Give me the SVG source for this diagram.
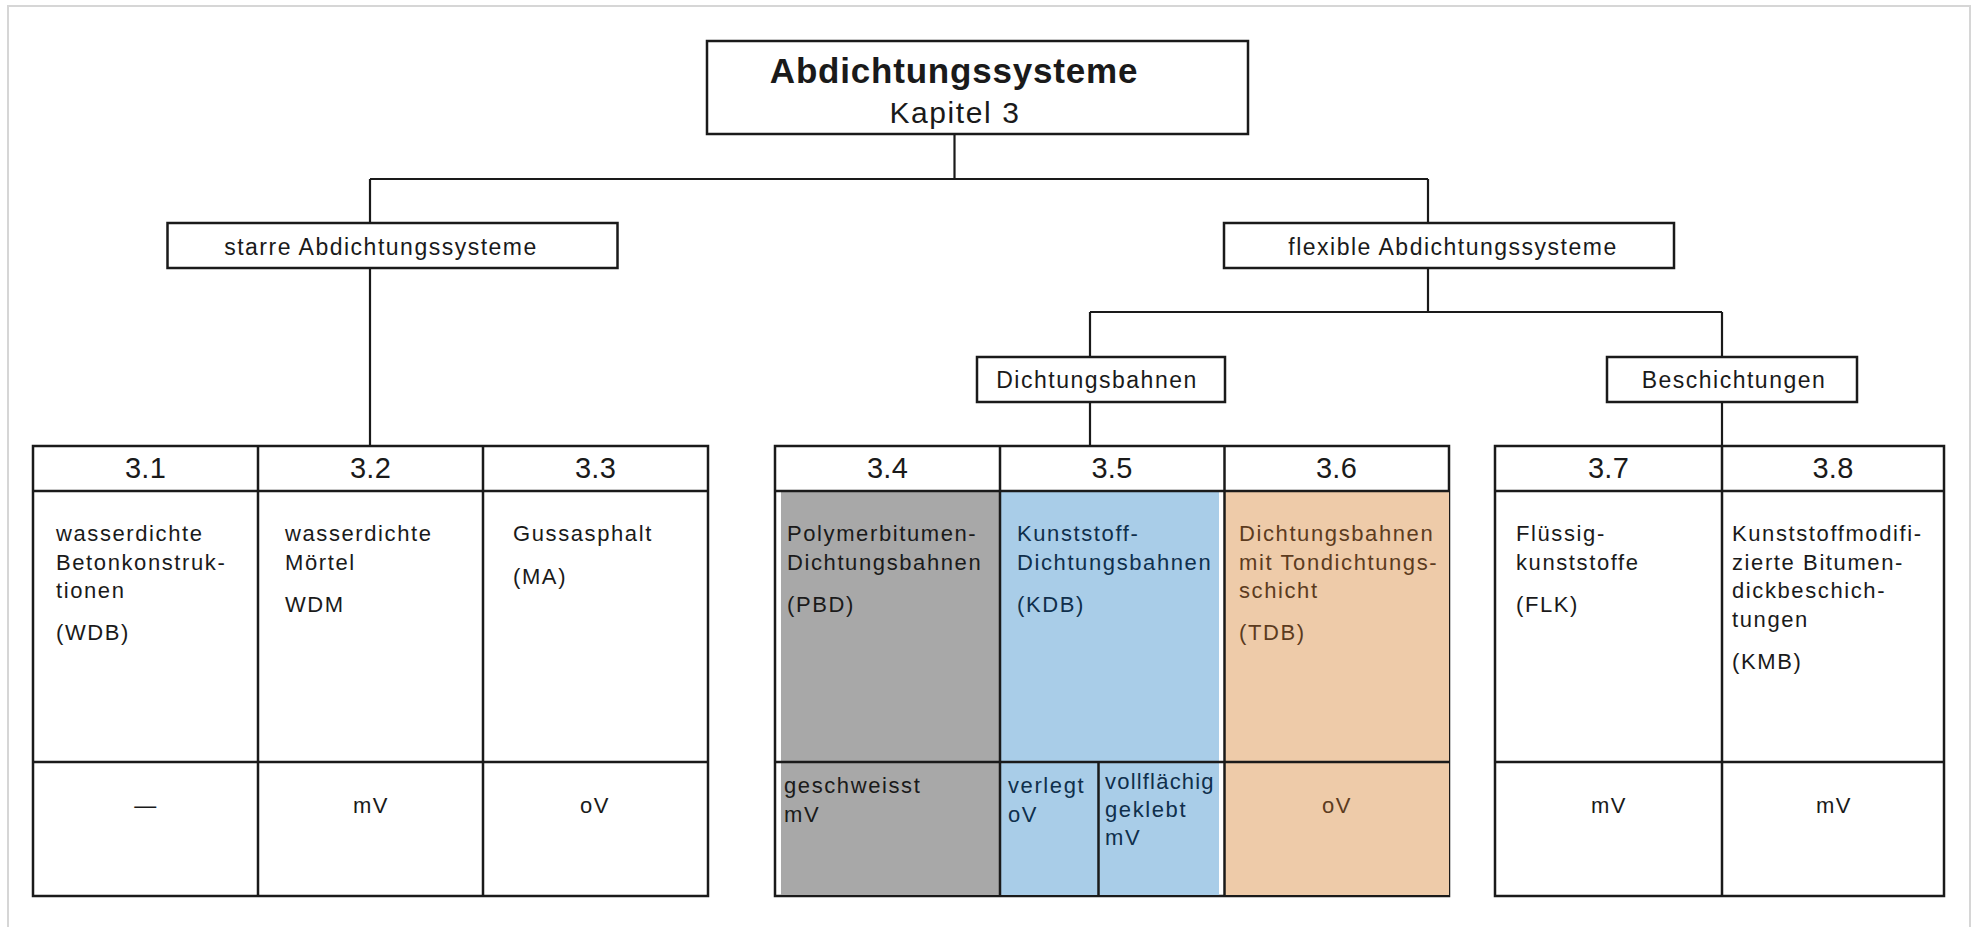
<svg xmlns="http://www.w3.org/2000/svg" width="1980" height="927" viewBox="0 0 1980 927">
<style>
.frame{fill:none;stroke:#d6d6d6;stroke-width:2}
.box{fill:#fff;stroke:#1a1a1a;stroke-width:2.5}
.ln{fill:none;stroke:#1a1a1a;stroke-width:2.2}
.tl{fill:none;stroke:#1a1a1a;stroke-width:2.5}
.t{font-family:"Liberation Sans",Arial,Helvetica,sans-serif;fill:#1a1a1a}
.ttl{font-size:35px;font-weight:bold;letter-spacing:0.8px;text-anchor:middle}
.sub{font-size:30px;letter-spacing:1.6px;text-anchor:middle}
.lbl{font-size:23px;letter-spacing:1.5px;text-anchor:middle}
.hd{font-size:29px;letter-spacing:0.3px;text-anchor:middle}
.bd{font-size:22px;letter-spacing:1.6px}
.mid{text-anchor:middle}
.blue{fill:#0f2f4c}
.brown{fill:#5c3b1e}
</style>
<rect class="frame" x="8" y="6" width="1962" height="940"/>

<g id="connectors">
<line class="ln" x1="954.5" y1="134" x2="954.5" y2="179"/>
<line class="ln" x1="370" y1="179" x2="1428" y2="179"/>
<line class="ln" x1="370" y1="179" x2="370" y2="223"/>
<line class="ln" x1="1428" y1="179" x2="1428" y2="223"/>
<line class="ln" x1="370" y1="268" x2="370" y2="446"/>
<line class="ln" x1="1428" y1="268" x2="1428" y2="312"/>
<line class="ln" x1="1090" y1="312" x2="1722" y2="312"/>
<line class="ln" x1="1090" y1="312" x2="1090" y2="357"/>
<line class="ln" x1="1722" y1="312" x2="1722" y2="357"/>
<line class="ln" x1="1090" y1="402" x2="1090" y2="446"/>
<line class="ln" x1="1722" y1="402" x2="1722" y2="446"/>
</g>

<g id="root">
<rect class="box" x="707" y="41" width="541" height="93"/>
<text class="t ttl" x="954" y="83">Abdichtungssysteme</text>
<text class="t sub" x="955" y="123">Kapitel 3</text>
</g>

<g id="starre">
<rect class="box" x="167.5" y="223" width="450" height="45"/>
<text class="t lbl" x="381" y="255">starre Abdichtungssysteme</text>
</g>

<g id="flexible">
<rect class="box" x="1224" y="223" width="450" height="45"/>
<text class="t lbl" x="1453" y="255">flexible Abdichtungssysteme</text>
</g>

<g id="dichtungsbahnen">
<rect class="box" x="977" y="357" width="248" height="45"/>
<text class="t lbl" x="1097" y="388">Dichtungsbahnen</text>
</g>

<g id="beschichtungen">
<rect class="box" x="1607" y="357" width="250" height="45"/>
<text class="t lbl" x="1734" y="388">Beschichtungen</text>
</g>

<g id="table-starr">
<rect class="box" x="33" y="446" width="675" height="450"/>
<line class="tl" x1="33" y1="491" x2="708" y2="491"/>
<line class="tl" x1="33" y1="762" x2="708" y2="762"/>
<line class="tl" x1="258" y1="446" x2="258" y2="896"/>
<line class="tl" x1="483" y1="446" x2="483" y2="896"/>
<text class="t hd" x="145.5" y="478">3.1</text>
<text class="t hd" x="370.5" y="478">3.2</text>
<text class="t hd" x="595.5" y="478">3.3</text>
<text class="t bd" x="56" y="541">wasserdichte</text>
<text class="t bd" x="56" y="569.5">Betonkonstruk-</text>
<text class="t bd" x="56" y="598">tionen</text>
<text class="t bd" x="56" y="640">(WDB)</text>
<text class="t bd" x="285" y="541">wasserdichte</text>
<text class="t bd" x="285" y="569.5">Mörtel</text>
<text class="t bd" x="285" y="612">WDM</text>
<text class="t bd" x="513" y="541">Gussasphalt</text>
<text class="t bd" x="513" y="584">(MA)</text>
<text class="t bd mid" x="146" y="813">—</text>
<text class="t bd mid" x="371" y="813">mV</text>
<text class="t bd mid" x="595" y="813">oV</text>
</g>

<g id="table-bahnen">
<rect class="box" x="775" y="446" width="674" height="450"/>
<rect x="781" y="492" width="219" height="403" fill="#a8a8a8"/>
<rect x="1000" y="492" width="219" height="403" fill="#a9cde8"/>
<rect x="1224" y="492" width="225" height="403" fill="#eecba9"/>
<line class="tl" x1="775" y1="491" x2="1449" y2="491"/>
<line class="tl" x1="775" y1="762" x2="1449" y2="762"/>
<line class="tl" x1="1000" y1="446" x2="1000" y2="896"/>
<line class="tl" x1="1224.5" y1="446" x2="1224.5" y2="896"/>
<line class="tl" x1="1098.5" y1="762" x2="1098.5" y2="896" stroke="#0f2a44"/>
<text class="t hd" x="887.5" y="478">3.4</text>
<text class="t hd" x="1112" y="478">3.5</text>
<text class="t hd" x="1336.5" y="478">3.6</text>
<text class="t bd" x="787" y="541">Polymerbitumen-</text>
<text class="t bd" x="787" y="569.5">Dichtungsbahnen</text>
<text class="t bd" x="787" y="612">(PBD)</text>
<text class="t bd" x="784" y="793">geschweisst</text>
<text class="t bd" x="784" y="821.5">mV</text>
<text class="t bd blue" x="1017" y="541">Kunststoff-</text>
<text class="t bd blue" x="1017" y="569.5">Dichtungsbahnen</text>
<text class="t bd blue" x="1017" y="612">(KDB)</text>
<text class="t bd blue" x="1008" y="793">verlegt</text>
<text class="t bd blue" x="1008" y="821.5">oV</text>
<text class="t bd blue" x="1105" y="789" style="letter-spacing:1.2px">vollflächig</text>
<text class="t bd blue" x="1105" y="817">geklebt</text>
<text class="t bd blue" x="1105" y="845">mV</text>
<text class="t bd brown" x="1239" y="541">Dichtungsbahnen</text>
<text class="t bd brown" x="1239" y="569.5">mit Tondichtungs-</text>
<text class="t bd brown" x="1239" y="598">schicht</text>
<text class="t bd brown" x="1239" y="640">(TDB)</text>
<text class="t bd brown mid" x="1337" y="813">oV</text>
</g>

<g id="table-beschichtungen">
<rect class="box" x="1495" y="446" width="449" height="450"/>
<line class="tl" x1="1495" y1="491" x2="1944" y2="491"/>
<line class="tl" x1="1495" y1="762" x2="1944" y2="762"/>
<line class="tl" x1="1722" y1="446" x2="1722" y2="896"/>
<text class="t hd" x="1608.5" y="478">3.7</text>
<text class="t hd" x="1833" y="478">3.8</text>
<text class="t bd" x="1516" y="541">Flüssig-</text>
<text class="t bd" x="1516" y="569.5">kunststoffe</text>
<text class="t bd" x="1516" y="612">(FLK)</text>
<text class="t bd" x="1732" y="541">Kunststoffmodifi-</text>
<text class="t bd" x="1732" y="569.5">zierte Bitumen-</text>
<text class="t bd" x="1732" y="598">dickbeschich-</text>
<text class="t bd" x="1732" y="626.5">tungen</text>
<text class="t bd" x="1732" y="669">(KMB)</text>
<text class="t bd mid" x="1609" y="813">mV</text>
<text class="t bd mid" x="1834" y="813">mV</text>
</g>
</svg>
